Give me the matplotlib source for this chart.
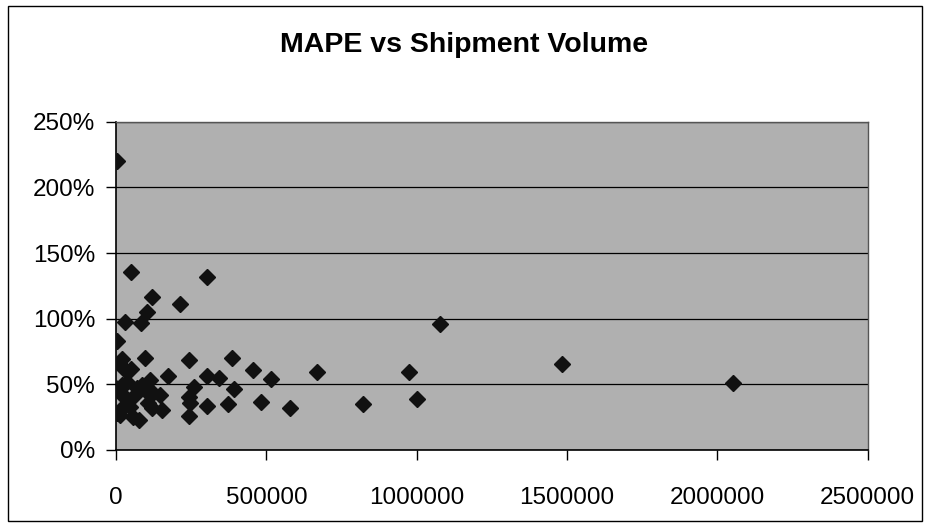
import matplotlib
matplotlib.use("Agg")
import matplotlib.pyplot as plt
from matplotlib.patches import Rectangle
from matplotlib.ticker import FuncFormatter

# shipment volume vs MAPE (%)
volume = [4000, 51000, 301000, 121000, 212000, 104000, 30000, 82000, 4000, 19000,
          96000, 243000, 386000, 27000, 51000, 457000, 668000, 173000, 301000, 341000,
          516000, 258000, 393000, 243000, 245000, 301000, 373000, 482000, 579000, 243000,
          1077000, 974000, 1482000, 823000, 1001000, 2051000,
          0, 19000, 35000, 13000, 30000, 63000, 86000, 113000, 102000, 124000,
          147000, 108000, 119000, 152000, 24000, 47000, 13000, 58000, 78000, 3000,
          10000, 70000]
mape = [220.5, 135.4, 131.6, 116.8, 111, 105, 97.8, 96.5, 83.3, 69,
        70, 68.6, 70, 62, 62, 61, 59.7, 56.6, 56.6, 55,
        54, 48, 46.5, 40, 35.5, 33.8, 34.8, 36.4, 32, 26,
        96, 59.7, 65.5, 34.8, 39, 50.8,
        47, 49.5, 52, 43, 40.6, 42, 49.5, 53, 44.5, 43,
        42, 35.6, 31.8, 30.5, 33, 33, 26.7, 25.4, 22.9, 28,
        66, 47]

x_ticks = [0, 500000, 1000000, 1500000, 2000000, 2500000]
y_ticks = [0, 50, 100, 150, 200, 250]

plt.rcParams['font.family'] = ['Liberation Sans', 'DejaVu Sans']

fig = plt.figure(figsize=(9.28, 5.25), dpi=100)
ax = fig.add_axes([0.125, 0.143, 0.81, 0.625])

ax.set_facecolor('#b0b0b0')
ax.plot(volume, [m / 100 for m in mape], linestyle='none',
        marker='D', markersize=8.5, color='#111111', zorder=3)

ax.set_xlim(0, 2500000)
ax.set_ylim(0, 2.5)
ax.set_xticks(x_ticks)
ax.set_yticks([t / 100 for t in y_ticks])
ax.xaxis.set_major_formatter(FuncFormatter(lambda v, p: '%d' % v))
ax.yaxis.set_major_formatter(FuncFormatter(lambda v, p: '%d%%' % round(v * 100)))
ax.tick_params(labelsize=17.5, length=7, width=1, color='black', pad=8)
ax.tick_params(axis='x', direction='out', pad=20)

ax.grid(axis='y', color='black', linewidth=0.9)
ax.set_axisbelow(True)
for side in ['left', 'bottom']:
    ax.spines[side].set_color('black')
    ax.spines[side].set_linewidth(1.2)
for side in ['top', 'right']:
    ax.spines[side].set_color('#555555')
    ax.spines[side].set_linewidth(1)

fig.text(0.5, 0.914, 'MAPE vs Shipment Volume', ha='center', va='center',
         fontsize=20.5, fontweight='bold')

# outer chart border
fig.patches.append(Rectangle((0.009, 0.008), 0.985, 0.98, transform=fig.transFigure,
                             fill=False, edgecolor='black', linewidth=1))

fig.savefig('out.png', dpi=100)
